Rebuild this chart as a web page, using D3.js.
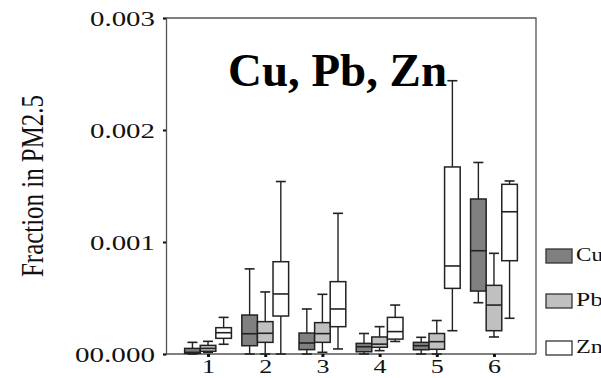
<!DOCTYPE html>
<html>
<head>
<meta charset="utf-8">
<script src="https://cdn.jsdelivr.net/npm/d3@7"></script>
<style>
  body { margin: 0; background: #fff; }
  text { font-family: "Liberation Serif", "Times New Roman", serif; }
</style>
</head>
<body>
<div id="plot"></div>
<script>
// sites on the x axis
const sites = [1, 2, 3, 4, 5, 6];
// [min, q1, median, q3, max] per site
const cuStats = [
  [0, 0.000006, 0.000015, 0.00005, 0.000104],
  [0, 0.000074, 0.000181, 0.000348, 0.00076],
  [0, 0.000039, 0.000098, 0.000187, 0.000402],
  [0, 0.00002, 0.000065, 0.000095, 0.000183],
  [0, 0.000038, 0.000074, 0.000104, 0.000149],
  [0.000458, 0.000562, 0.000922, 0.001384, 0.00171]
];
const pbStats = [
  [0.000015, 0.000024, 0.00005, 0.000077, 0.000113],
  [0, 0.000104, 0.000185, 0.000289, 0.000554],
  [0.000015, 0.000104, 0.000182, 0.00028, 0.000533],
  [0.00003, 0.00006, 0.000088, 0.000152, 0.000244],
  [0, 0.000042, 0.00011, 0.000183, 0.000299],
  [0.000152, 0.000208, 0.000437, 0.000613, 0.000899]
];
const znStats = [
  [0.000087, 0.00014, 0.00019, 0.000235, 0.000327],
  [0, 0.000339, 0.000536, 0.000824, 0.00154],
  [0.000045, 0.000244, 0.000402, 0.000646, 0.001256],
  [0.000112, 0.000133, 0.0002, 0.000327, 0.000437],
  [0.000208, 0.000586, 0.000786, 0.00167, 0.00244],
  [0.000319, 0.000833, 0.00127, 0.001515, 0.001545]
];
const seriesNames = ["Cu", "Pb", "Zn"];
const seriesFill = ["#808080", "#c0c0c0", "#ffffff"];
const yTicks = [0, 0.001, 0.002, 0.003];
const yTickLabels = ["00.000", "0.001", "0.002", "0.003"];

const svgWidth = 601, svgHeight = 378;
const plotLeft = 166, plotRight = 536, plotTop = 18, plotBottom = 354;

const svg = d3.select("#plot").append("svg")
  .attr("width", svgWidth)
  .attr("height", svgHeight);

const x = d3.scalePoint().domain(sites).range([plotLeft, plotRight]).padding(0.735);
const y = d3.scaleLinear().domain([0, 0.003]).range([plotBottom, plotTop]);
const boxW = 15.6;
const offsets = [-boxW, 0, boxW];

// frame
svg.append("path")
  .attr("d", `M${plotLeft},${plotTop}H${plotRight}V${plotBottom}`)
  .attr("fill", "none")
  .attr("stroke", "#555")
  .attr("stroke-width", 1.3);

// y axis
const yAxis = svg.append("g")
  .attr("transform", `translate(${plotLeft},0)`)
  .call(d3.axisLeft(y).tickValues(yTicks).tickSize(3).tickFormat((d, i) => yTickLabels[i]));
yAxis.select(".domain").attr("stroke", "#555").attr("stroke-width", 1.3);
yAxis.selectAll(".tick line").attr("stroke", "#111").attr("stroke-width", 2);
yAxis.selectAll(".tick text")
  .attr("x", -11)
  .attr("dy", "0.35em")
  .style("font-size", "20px")
  .style("font-family", "Liberation Serif")
  .attr("fill", "#111")
  .attr("textLength", (d, i) => yTickLabels[i].length === 6 ? 80 : 65)
  .attr("lengthAdjust", "spacingAndGlyphs");

// x axis
const xAxis = svg.append("g")
  .attr("transform", `translate(0,${plotBottom})`)
  .call(d3.axisBottom(x).tickSize(3));
xAxis.select(".domain").attr("stroke", "#555").attr("stroke-width", 1.3).attr("d", `M${plotLeft},0H${plotRight}`);
xAxis.selectAll(".tick line").attr("stroke", "#111").attr("stroke-width", 3);
xAxis.selectAll(".tick text")
  .attr("y", 19)
  .attr("dy", 0)
  .style("font-size", "19px")
  .style("font-family", "Liberation Serif")
  .attr("fill", "#111")
  .attr("textLength", 13)
  .attr("lengthAdjust", "spacingAndGlyphs");

// y label
svg.append("text")
  .attr("transform", "translate(43,186) rotate(-90) scale(1,1.4)")
  .attr("text-anchor", "middle")
  .style("font-size", "23px")
  .attr("fill", "#111")
  .attr("textLength", 182)
  .attr("lengthAdjust", "spacingAndGlyphs")
  .text("Fraction in PM2.5");

// title
svg.append("text")
  .attr("x", 228)
  .attr("y", 86)
  .style("font-size", "47px")
  .style("font-weight", "bold")
  .attr("fill", "#000")
  .attr("textLength", 219)
  .attr("lengthAdjust", "spacingAndGlyphs")
  .text("Cu, Pb, Zn");

// boxes
const allStats = [cuStats, pbStats, znStats];
allStats.forEach((stats, si) => {
  const g = svg.append("g");
  const items = stats.map((s, i) => ({ site: sites[i], s: s }));
  const grp = g.selectAll("g").data(items).enter().append("g")
    .attr("transform", d => `translate(${x(d.site) + offsets[si]},0)`);
  // whiskers
  grp.append("line")
    .attr("y1", d => y(d.s[4])).attr("y2", d => y(d.s[3]))
    .attr("stroke", "#222").attr("stroke-width", 1.4);
  grp.append("line")
    .attr("y1", d => y(d.s[1])).attr("y2", d => y(d.s[0]))
    .attr("stroke", "#222").attr("stroke-width", 1.4);
  grp.append("line")
    .attr("x1", -5).attr("x2", 5)
    .attr("y1", d => y(d.s[4])).attr("y2", d => y(d.s[4]))
    .attr("stroke", "#222").attr("stroke-width", 1.6);
  grp.append("line")
    .attr("x1", -5).attr("x2", 5)
    .attr("y1", d => y(d.s[0])).attr("y2", d => y(d.s[0]))
    .attr("stroke", "#222").attr("stroke-width", 1.6);
  grp.append("rect")
    .attr("x", -boxW / 2)
    .attr("width", boxW)
    .attr("y", d => y(d.s[3]))
    .attr("height", d => Math.max(1, y(d.s[1]) - y(d.s[3])))
    .attr("fill", seriesFill[si])
    .attr("stroke", "#222").attr("stroke-width", 1.5);
  grp.append("line")
    .attr("x1", -boxW / 2).attr("x2", boxW / 2)
    .attr("y1", d => y(d.s[2])).attr("y2", d => y(d.s[2]))
    .attr("stroke", "#222").attr("stroke-width", 1.6);
});

// legend
const legendY = [249, 294, 341];
const legend = svg.append("g").selectAll("g").data(seriesNames).enter().append("g")
  .attr("transform", (d, i) => `translate(546,${legendY[i]})`);
legend.append("rect")
  .attr("width", 26).attr("height", 14)
  .attr("fill", (d, i) => seriesFill[i])
  .attr("stroke", "#333").attr("stroke-width", 1.3);
legend.append("text")
  .attr("x", 30).attr("y", 12)
  .style("font-size", "18px")
  .attr("fill", "#111")
  .attr("textLength", 27)
  .attr("lengthAdjust", "spacingAndGlyphs")
  .text(d => d);
</script>
</body>
</html>
